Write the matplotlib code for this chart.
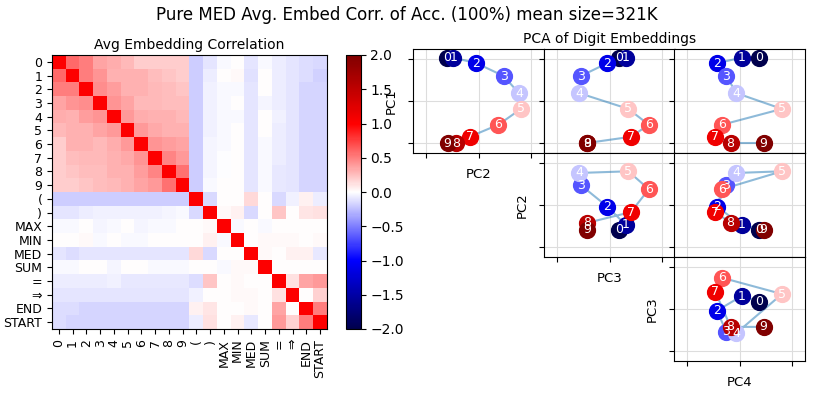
import numpy as np
import matplotlib
matplotlib.use("Agg")
import matplotlib.pyplot as plt

tokens = ["0", "1", "2", "3", "4", "5", "6", "7", "8", "9", "(", ")",
          "MAX", "MIN", "MED", "SUM", "=", "⇒", "END", "START"]

corr = np.array([
    # 0     1     2     3     4     5     6     7     8     9     (     )    MAX   MIN   MED   SUM    =     ⇒    END  START
    [1.00, 0.58, 0.50, 0.35, 0.32, 0.28, 0.20, 0.20, 0.20, 0.20, -0.20, -0.10, -0.03, 0.00, -0.10, -0.03, -0.07, -0.10, -0.13, -0.15],
    [0.58, 1.00, 0.50, 0.42, 0.30, 0.30, 0.30, 0.25, 0.22, 0.20, -0.20, -0.07, 0.00, 0.02, -0.12, 0.00, -0.07, -0.10, -0.13, -0.18],
    [0.50, 0.50, 1.00, 0.45, 0.38, 0.30, 0.30, 0.27, 0.25, 0.22, -0.20, -0.05, -0.02, -0.02, -0.10, 0.00, -0.07, -0.10, -0.17, -0.17],
    [0.35, 0.42, 0.45, 1.00, 0.42, 0.35, 0.28, 0.27, 0.25, 0.25, -0.20, -0.05, -0.03, 0.00, -0.10, -0.04, -0.07, -0.10, -0.17, -0.17],
    [0.32, 0.30, 0.38, 0.42, 1.00, 0.40, 0.32, 0.30, 0.30, 0.27, -0.20, -0.05, -0.02, -0.02, -0.10, 0.00, -0.06, -0.10, -0.17, -0.17],
    [0.28, 0.30, 0.30, 0.35, 0.40, 1.00, 0.40, 0.33, 0.30, 0.30, -0.20, -0.05, -0.03, 0.00, -0.10, 0.00, -0.07, -0.10, -0.17, -0.17],
    [0.20, 0.30, 0.30, 0.28, 0.32, 0.40, 1.00, 0.42, 0.38, 0.35, -0.20, -0.04, -0.02, 0.00, -0.10, -0.02, -0.07, -0.10, -0.17, -0.17],
    [0.20, 0.25, 0.27, 0.27, 0.30, 0.33, 0.42, 1.00, 0.47, 0.40, -0.20, -0.04, -0.01, 0.00, -0.10, -0.03, -0.07, -0.10, -0.17, -0.17],
    [0.20, 0.22, 0.25, 0.25, 0.30, 0.30, 0.38, 0.47, 1.00, 0.55, -0.20, -0.04, -0.01, 0.00, -0.10, -0.03, -0.08, -0.10, -0.17, -0.17],
    [0.20, 0.20, 0.22, 0.25, 0.27, 0.30, 0.35, 0.40, 0.55, 1.00, -0.19, -0.03, 0.00, 0.00, -0.10, -0.02, -0.08, -0.10, -0.17, -0.17],
    [-0.20, -0.20, -0.20, -0.20, -0.20, -0.20, -0.20, -0.20, -0.20, -0.19, 1.00, -0.15, 0.00, 0.00, 0.15, 0.00, -0.15, -0.05, 0.05, -0.07],
    [-0.10, -0.10, -0.07, -0.05, -0.05, -0.05, -0.05, -0.05, -0.04, -0.03, -0.15, 1.00, 0.02, 0.05, -0.15, 0.00, 0.22, 0.00, 0.10, 0.12],
    [-0.02, -0.02, 0.00, -0.04, -0.02, 0.00, -0.04, -0.02, -0.02, 0.00, 0.00, 0.02, 1.00, -0.03, 0.00, -0.03, 0.00, 0.00, 0.00, 0.00],
    [0.00, 0.00, 0.02, -0.02, 0.00, -0.02, -0.02, 0.00, 0.00, 0.00, 0.00, 0.05, -0.03, 1.00, 0.00, 0.03, 0.03, 0.03, 0.00, 0.03],
    [-0.10, -0.13, -0.10, -0.10, -0.10, -0.10, -0.10, -0.10, -0.10, -0.10, 0.15, -0.15, 0.00, 0.00, 1.00, 0.02, 0.00, 0.05, 0.05, -0.08],
    [-0.02, -0.02, 0.00, 0.00, -0.04, 0.00, 0.00, -0.02, -0.03, -0.03, 0.00, 0.00, -0.03, 0.02, 0.02, 1.00, 0.00, 0.00, 0.00, 0.00],
    [-0.07, -0.07, -0.07, -0.07, -0.05, -0.08, -0.08, -0.08, -0.08, -0.08, -0.13, 0.22, 0.00, 0.03, 0.00, 0.00, 1.00, 0.12, 0.35, 0.40],
    [-0.10, -0.10, -0.10, -0.10, -0.10, -0.10, -0.10, -0.10, -0.10, -0.10, -0.05, 0.00, 0.00, 0.02, 0.03, 0.00, 0.12, 1.00, 0.00, 0.18],
    [-0.13, -0.13, -0.17, -0.17, -0.17, -0.17, -0.17, -0.17, -0.17, -0.17, 0.05, 0.10, 0.00, 0.00, 0.03, 0.00, 0.35, 0.00, 1.00, 0.50],
    [-0.13, -0.16, -0.17, -0.17, -0.17, -0.17, -0.17, -0.17, -0.17, -0.17, -0.07, 0.12, 0.00, 0.05, -0.08, 0.00, 0.40, 0.18, 0.50, 1.00],
])

digits = ["0", "1", "2", "3", "4", "5", "6", "7", "8", "9"]
pc1 = [1.04, 1.04, 0.91, 0.60, 0.19, -0.19, -0.57, -0.86, -1.01, -1.01]
pc2 = [-0.60, -0.48, -0.04, 0.48, 0.77, 0.81, 0.38, -0.17, -0.43, -0.59]
pc3 = [0.18, 0.31, -0.04, -0.55, -0.58, 0.36, 0.75, 0.41, -0.43, -0.43]
pc4 = [0.37, 0.04, -0.43, -0.25, -0.06, 0.81, -0.33, -0.46, -0.17, 0.46]
pcs = [pc1, pc2, pc3, pc4]
pc_names = ["PC1", "PC2", "PC3", "PC4"]

W, H = 814, 393
fig = plt.figure(figsize=(W / 100, H / 100), dpi=100)


def px_axes(left, top, width, height):
    return fig.add_axes([left / W, 1 - (top + height) / H, width / W, height / H])


fig.suptitle("Pure MED Avg. Embed Corr. of Acc. (100%) mean size=321K",
             fontsize=12, y=0.985)

# Heatmap
ax = px_axes(52, 55, 275, 274)
im = ax.imshow(corr, cmap="seismic", vmin=-2, vmax=2, aspect="auto",
               interpolation="nearest")
ax.set_xticks(range(len(tokens)))
ax.set_xticklabels(tokens, rotation=90, fontsize=9)
ax.set_yticks(range(len(tokens)))
ax.set_yticklabels(tokens, fontsize=9)
ax.set_title("Avg Embedding Correlation", fontsize=10, pad=4)

cax = px_axes(346, 55, 14.5, 274)
cb = fig.colorbar(im, cax=cax, ticks=np.arange(-2, 2.01, 0.5))
cb.ax.tick_params(labelsize=10)

# PCA pair grid
cmap = plt.get_cmap("seismic")
col_left = [413, 544, 674]
row_top = [49, 153, 257]
pw, ph = 131, 104
for r in range(3):
    for c in range(r, 3):
        a = px_axes(col_left[c], row_top[r], pw, ph)
        xs = pcs[c + 1]
        ys = pcs[r]
        a.plot(xs, ys, color="tab:blue", alpha=0.5, lw=1.5, zorder=1)
        for i, d in enumerate(digits):
            a.scatter([xs[i]], [ys[i]], s=130, color=cmap(i / 9), zorder=2)
            a.text(xs[i], ys[i], d, color="white", fontsize=9,
                   ha="center", va="center", zorder=3)
        a.set_xlim(-1.25, 1.25)
        a.set_ylim(-1.25, 1.25)
        a.set_xticks([-1, 0, 1])
        a.set_yticks([-1, 0, 1])
        a.set_xticklabels([])
        a.set_yticklabels([])
        a.grid(True, color="#dddddd", lw=0.8)
        a.set_axisbelow(True)
        if c == r:
            a.set_xlabel(pc_names[c + 1], fontsize=9.5)
            a.set_ylabel(pc_names[r], fontsize=9.5)
        if r == 0 and c == 1:
            a.set_title("PCA of Digit Embeddings", fontsize=10, pad=4)

fig.savefig("out.png", dpi=100)
